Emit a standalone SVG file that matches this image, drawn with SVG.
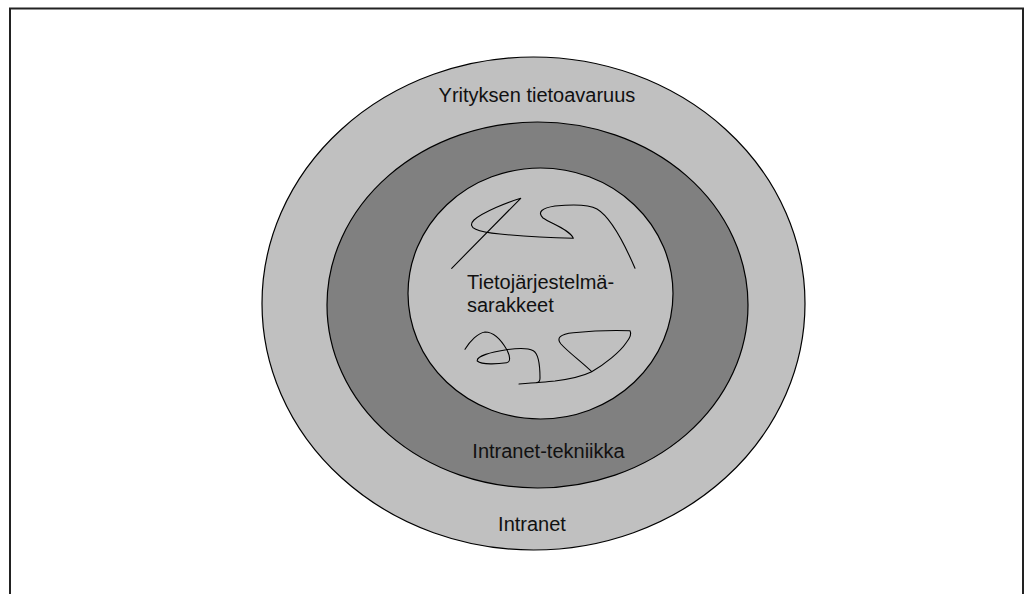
<svg xmlns="http://www.w3.org/2000/svg" width="1031" height="594" viewBox="0 0 1031 594">
  <style>
    .ring { stroke: #000; stroke-width: 1.2; }
    .light { fill: #c0c0c0; }
    .dark { fill: #808080; }
    .label { font-family: "Liberation Sans", Arial, sans-serif; font-size: 20px; fill: #111; }
    .scribble { fill: none; stroke: #000; stroke-width: 1.1; stroke-linejoin: round; stroke-linecap: round; }
  </style>
  <rect width="1031" height="594" fill="#fff"/>
  <!-- frame: the bottom edge runs past the canvas -->
  <rect x="10" y="8.5" width="1013" height="600" fill="none" stroke="#222" stroke-width="2"/>

  <g id="intranet">
    <ellipse class="ring light" cx="533.5" cy="303.5" rx="271.5" ry="246.5"/>
    <text class="label" x="537" y="102" text-anchor="middle">Yrityksen tietoavaruus</text>
    <text class="label" x="532" y="531" text-anchor="middle">Intranet</text>
  </g>

  <g id="intranet-tekniikka">
    <ellipse class="ring dark" cx="537.5" cy="305" rx="210.5" ry="183"/>
    <text class="label" x="548.5" y="458" text-anchor="middle">Intranet-tekniikka</text>
  </g>

  <g id="tietojarjestelmasarakkeet">
    <ellipse class="ring light" cx="540.5" cy="293.5" rx="132.5" ry="125.5"/>
    <text class="label" x="467" y="289">Tietojärjestelmä-</text>
    <text class="label" x="467" y="312">sarakkeet</text>
    <!-- freehand squiggles above the label -->
    <path class="scribble" d="M451.7,268.3 L520.7,198.3 C508,202 483,212 474,220 C466,228 478,232 500,234 C530,237 560,238 573.3,238.3 C570,230 552,224 543,218 C537,212 542,208 555,206 C575,204 590,205 597,209 C612,218 625,245 635,268.3"/>
    <!-- freehand squiggles below the label -->
    <path class="scribble" d="M465,349.3 C470,341 478,333 485,332 C495,332 503,343 507,350 C510,356 511,362 506.7,362.7 C498,364 482,365 477.3,361 C476,356 492,352 505,350 C518,348 528,348 533.3,350.7 C539,354 540,368 540,378 C540,382 538,382.5 536.7,382.5"/>
    <path class="scribble" d="M519,384 C532,383 545,382 555,381 C570,379 583,376 591.7,371.7 C583,363 568,352 561,344 C556,338 560,334 573.3,332.7 C590,331 612,330 630,330.7 C632,334 630,338 626,343 C620,352 605,364 591.7,371.7"/>
  </g>
</svg>
